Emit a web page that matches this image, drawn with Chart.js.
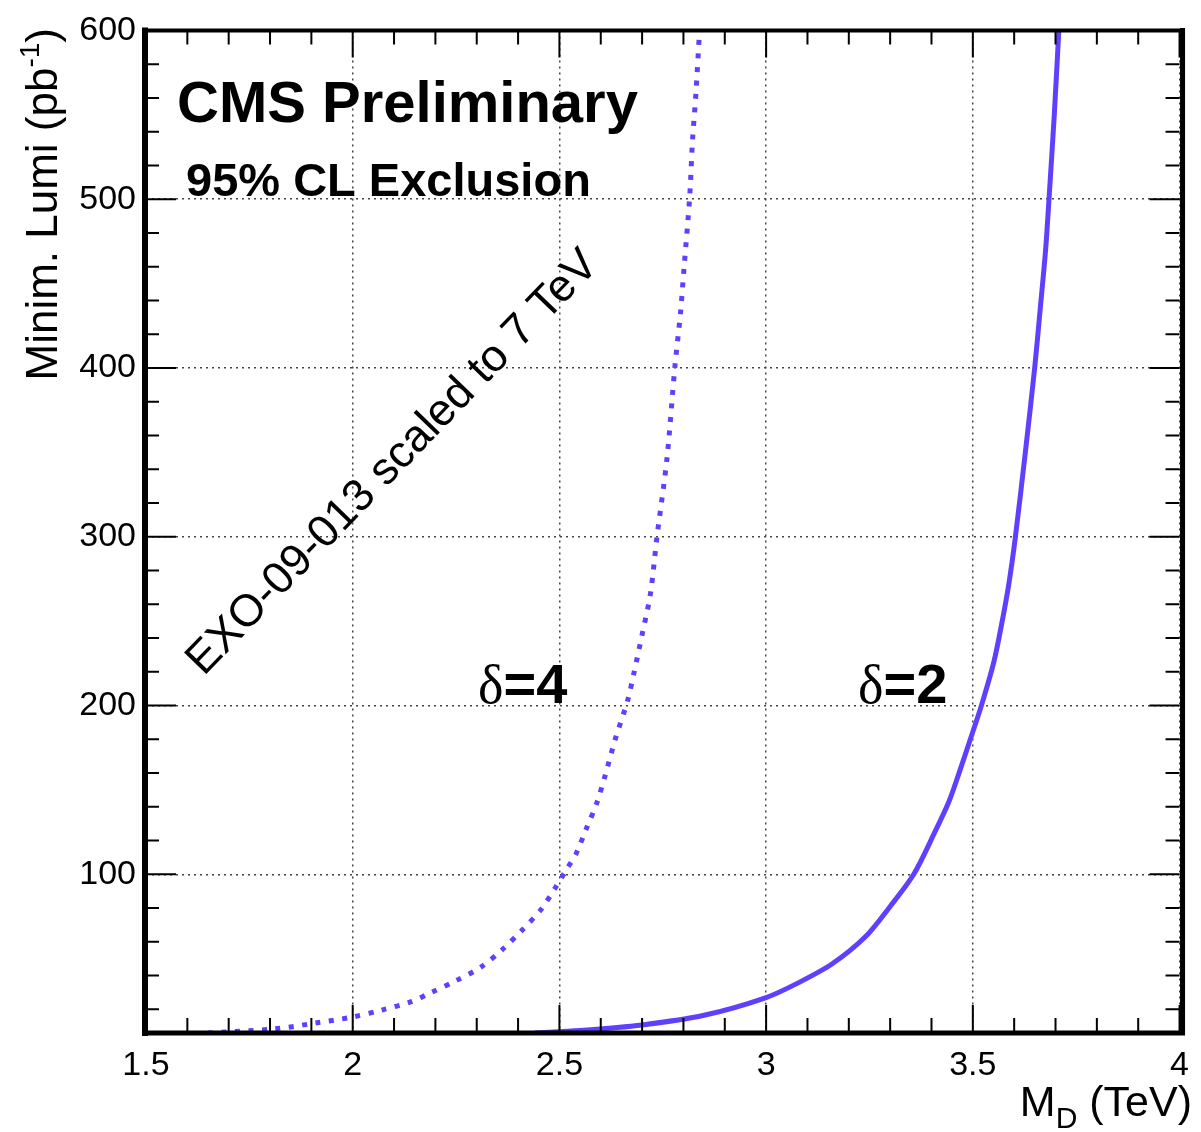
<!DOCTYPE html>
<html>
<head>
<meta charset="utf-8">
<script src="https://cdn.jsdelivr.net/npm/chart.js@4.4.1/dist/chart.umd.min.js"></script>
<style>
  html, body { margin: 0; padding: 0; background: #fff; }
  #wrap { width: 1201px; height: 1132px; position: relative; }
</style>
</head>
<body>
<div id="wrap"><canvas id="lumiChart"></canvas></div>
<script>
// delta = 4, EXO-09-013 scaled to 7 TeV (dotted)
const massD4 = [1.65, 1.81, 1.91, 2.00, 2.07, 2.14, 2.19, 2.25, 2.31, 2.36, 2.41, 2.455, 2.49, 2.52, 2.54, 2.565, 2.59, 2.61, 2.635, 2.665, 2.68, 2.70, 2.72, 2.736, 2.76, 2.779, 2.793, 2.801, 2.815, 2.822, 2.83, 2.839];
const lumiD4 = [6, 8.4, 11.9, 15.5, 19.6, 24.4, 30, 37, 45, 55, 67, 79, 92, 104, 112, 127, 142, 158, 180, 203, 219, 242, 266, 300, 346, 400, 433, 458, 501, 535, 562, 600];

// delta = 2 (solid)
const massD2 = [2.44, 2.55, 2.70, 2.85, 3.00, 3.08, 3.16, 3.24, 3.30, 3.357, 3.41, 3.442, 3.468, 3.498, 3.522, 3.551, 3.571, 3.587, 3.603, 3.627, 3.650, 3.663, 3.676, 3.685, 3.697, 3.708];
const lumiD2 = [6, 7.5, 10.8, 16.5, 27, 36, 47, 63, 81, 100, 126, 143, 161, 183, 201, 226, 250, 272, 300, 350, 401, 435, 470, 503, 550, 600];

const xTicks = [1.5, 2, 2.5, 3, 3.5, 4];
const xTickLabels = ['1.5', '2', '2.5', '3', '3.5', '4'];
const yTicks = [100, 200, 300, 400, 500, 600];
const yTickLabels = ['100', '200', '300', '400', '500', '600'];

const lineColor = '#5e40ff';
const sans = '"Liberation Sans", Arial, Helvetica, sans-serif';
const serif = '"Liberation Serif", "DejaVu Serif", serif';

function toPoints(xs, ys) {
    return xs.map((x, i) => ({ x: x, y: ys[i] }));
}

// ROOT style frame, ticks pointing inwards on all four sides
const framePlugin = {
    id: 'frame',
    afterDatasetsDraw(chart) {
        const { ctx, chartArea: a, scales: { x, y } } = chart;
        ctx.save();
        ctx.strokeStyle = '#000';
        ctx.lineWidth = 2;
        ctx.beginPath();
        for (let i = 0; i <= 25; i++) {
            const px = x.getPixelForValue(1.5 + i * 0.1);
            const major = i % 5 === 0;
            ctx.moveTo(px, a.bottom);
            ctx.lineTo(px, a.bottom - (major ? 28 : 15));
            ctx.moveTo(px, a.top);
            ctx.lineTo(px, a.top + (major ? 27 : 14));
        }
        for (let v = 20; v <= 600; v += 20) {
            const py = y.getPixelForValue(v);
            const major = v % 100 === 0;
            ctx.moveTo(a.left, py);
            ctx.lineTo(a.left + (major ? 30 : 13), py);
            ctx.moveTo(a.right, py);
            ctx.lineTo(a.right - (major ? 30 : 14), py);
        }
        ctx.stroke();

        ctx.lineCap = 'square';
        ctx.lineWidth = 6;
        ctx.beginPath();
        ctx.moveTo(a.left - 1, a.top);
        ctx.lineTo(a.left - 1, a.bottom);
        ctx.stroke();
        ctx.lineWidth = 5;
        ctx.beginPath();
        ctx.moveTo(a.left, a.bottom);
        ctx.lineTo(a.right + 3, a.bottom);
        ctx.lineTo(a.right + 3, a.top);
        ctx.stroke();
        ctx.lineWidth = 4;
        ctx.beginPath();
        ctx.moveTo(a.left, a.top);
        ctx.lineTo(a.right + 3, a.top);
        ctx.stroke();
        ctx.restore();
    },
    afterDraw(chart) {
        const { ctx } = chart;
        ctx.save();
        ctx.fillStyle = '#000';
        ctx.textBaseline = 'alphabetic';
        ctx.textAlign = 'left';

        ctx.font = 'bold 58px ' + sans;
        ctx.fillText('CMS Preliminary', 177, 122);
        ctx.font = 'bold 47px ' + sans;
        ctx.fillText('95% CL Exclusion', 186, 196);

        // delta labels
        [['4', 478], ['2', 858]].forEach(([n, x0]) => {
            ctx.font = '54px ' + serif;
            ctx.fillText('\u03b4', x0, 703);
            const w = ctx.measureText('\u03b4').width;
            ctx.font = 'bold 56px ' + sans;
            ctx.fillText('=' + n, x0 + w, 703);
        });

        // rotated note
        ctx.save();
        ctx.translate(393, 463);
        ctx.rotate(-46 * Math.PI / 180);
        ctx.font = '45px ' + sans;
        ctx.textAlign = 'center';
        ctx.textBaseline = 'middle';
        ctx.fillText('EXO-09-013 scaled to 7 TeV', 0, 0);
        ctx.restore();

        // x title: M_D (TeV), right aligned
        ctx.font = '43px ' + sans;
        const rest = ' (TeV)';
        const wRest = ctx.measureText(rest).width;
        const wM = ctx.measureText('M').width;
        ctx.font = '30px ' + sans;
        const wD = ctx.measureText('D').width;
        const xr = 1192 - wRest;
        ctx.font = '43px ' + sans;
        ctx.fillText(rest, xr, 1116);
        ctx.font = '30px ' + sans;
        ctx.fillText('D', xr - wD, 1128);
        ctx.font = '43px ' + sans;
        ctx.fillText('M', xr - wD - wM, 1116);

        // y title: Minim. Lumi (pb^-1), rotated, ending at the top of the frame
        ctx.save();
        ctx.translate(57, 28);
        ctx.rotate(-Math.PI / 2);
        ctx.textAlign = 'right';
        ctx.font = '44px ' + sans;
        ctx.fillText(')', 0, 0);
        let off = ctx.measureText(')').width;
        ctx.font = '28px ' + sans;
        ctx.fillText('-1', -off, -18);
        off += ctx.measureText('-1').width;
        ctx.font = '44px ' + sans;
        ctx.fillText('Minim. Lumi (pb', -off, 0);
        ctx.restore();

        ctx.restore();
    }
};

const ctx = document.getElementById('lumiChart').getContext('2d');
window.lumiChart = new Chart(ctx, {
    type: 'scatter',
    data: {
        datasets: [
            {
                label: 'delta=4',
                data: toPoints(massD4, lumiD4),
                showLine: true,
                borderColor: lineColor,
                borderWidth: 5,
                borderDash: [5, 8.5],
                pointRadius: 0,
                tension: 0.3
            },
            {
                label: 'delta=2',
                data: toPoints(massD2, lumiD2),
                showLine: true,
                borderColor: lineColor,
                borderWidth: 5,
                pointRadius: 0,
                tension: 0.3
            }
        ]
    },
    options: {
        responsive: true,
        maintainAspectRatio: false,
        animation: false,
        layout: { padding: { top: 27, right: 20, left: 0, bottom: 0 } },
        plugins: {
            legend: { display: false },
            tooltip: { enabled: false }
        },
        scales: {
            x: {
                type: 'linear',
                min: 1.5,
                max: 4,
                afterBuildTicks: (scale) => { scale.ticks = xTicks.map(v => ({ value: v })); },
                afterFit: (scale) => { scale.height = 99; },
                border: { display: false, dash: [2, 4] },
                grid: {
                    drawTicks: false,
                    color: '#444',
                    lineWidth: 1.5
                },
                ticks: {
                    padding: 12,
                    color: '#000',
                    font: { family: sans, size: 34 },
                    callback: (v) => xTickLabels[xTicks.indexOf(v)]
                }
            },
            y: {
                type: 'linear',
                min: 6,
                max: 600,
                afterBuildTicks: (scale) => { scale.ticks = yTicks.map(v => ({ value: v })); },
                afterFit: (scale) => { scale.width = 146; },
                border: { display: false, dash: [2, 4] },
                grid: {
                    drawTicks: false,
                    color: '#444',
                    lineWidth: 1.5
                },
                ticks: {
                    padding: 10,
                    color: '#000',
                    font: { family: sans, size: 34 },
                    callback: (v) => yTickLabels[yTicks.indexOf(v)]
                }
            }
        }
    },
    plugins: [framePlugin]
});
</script>
</body>
</html>
